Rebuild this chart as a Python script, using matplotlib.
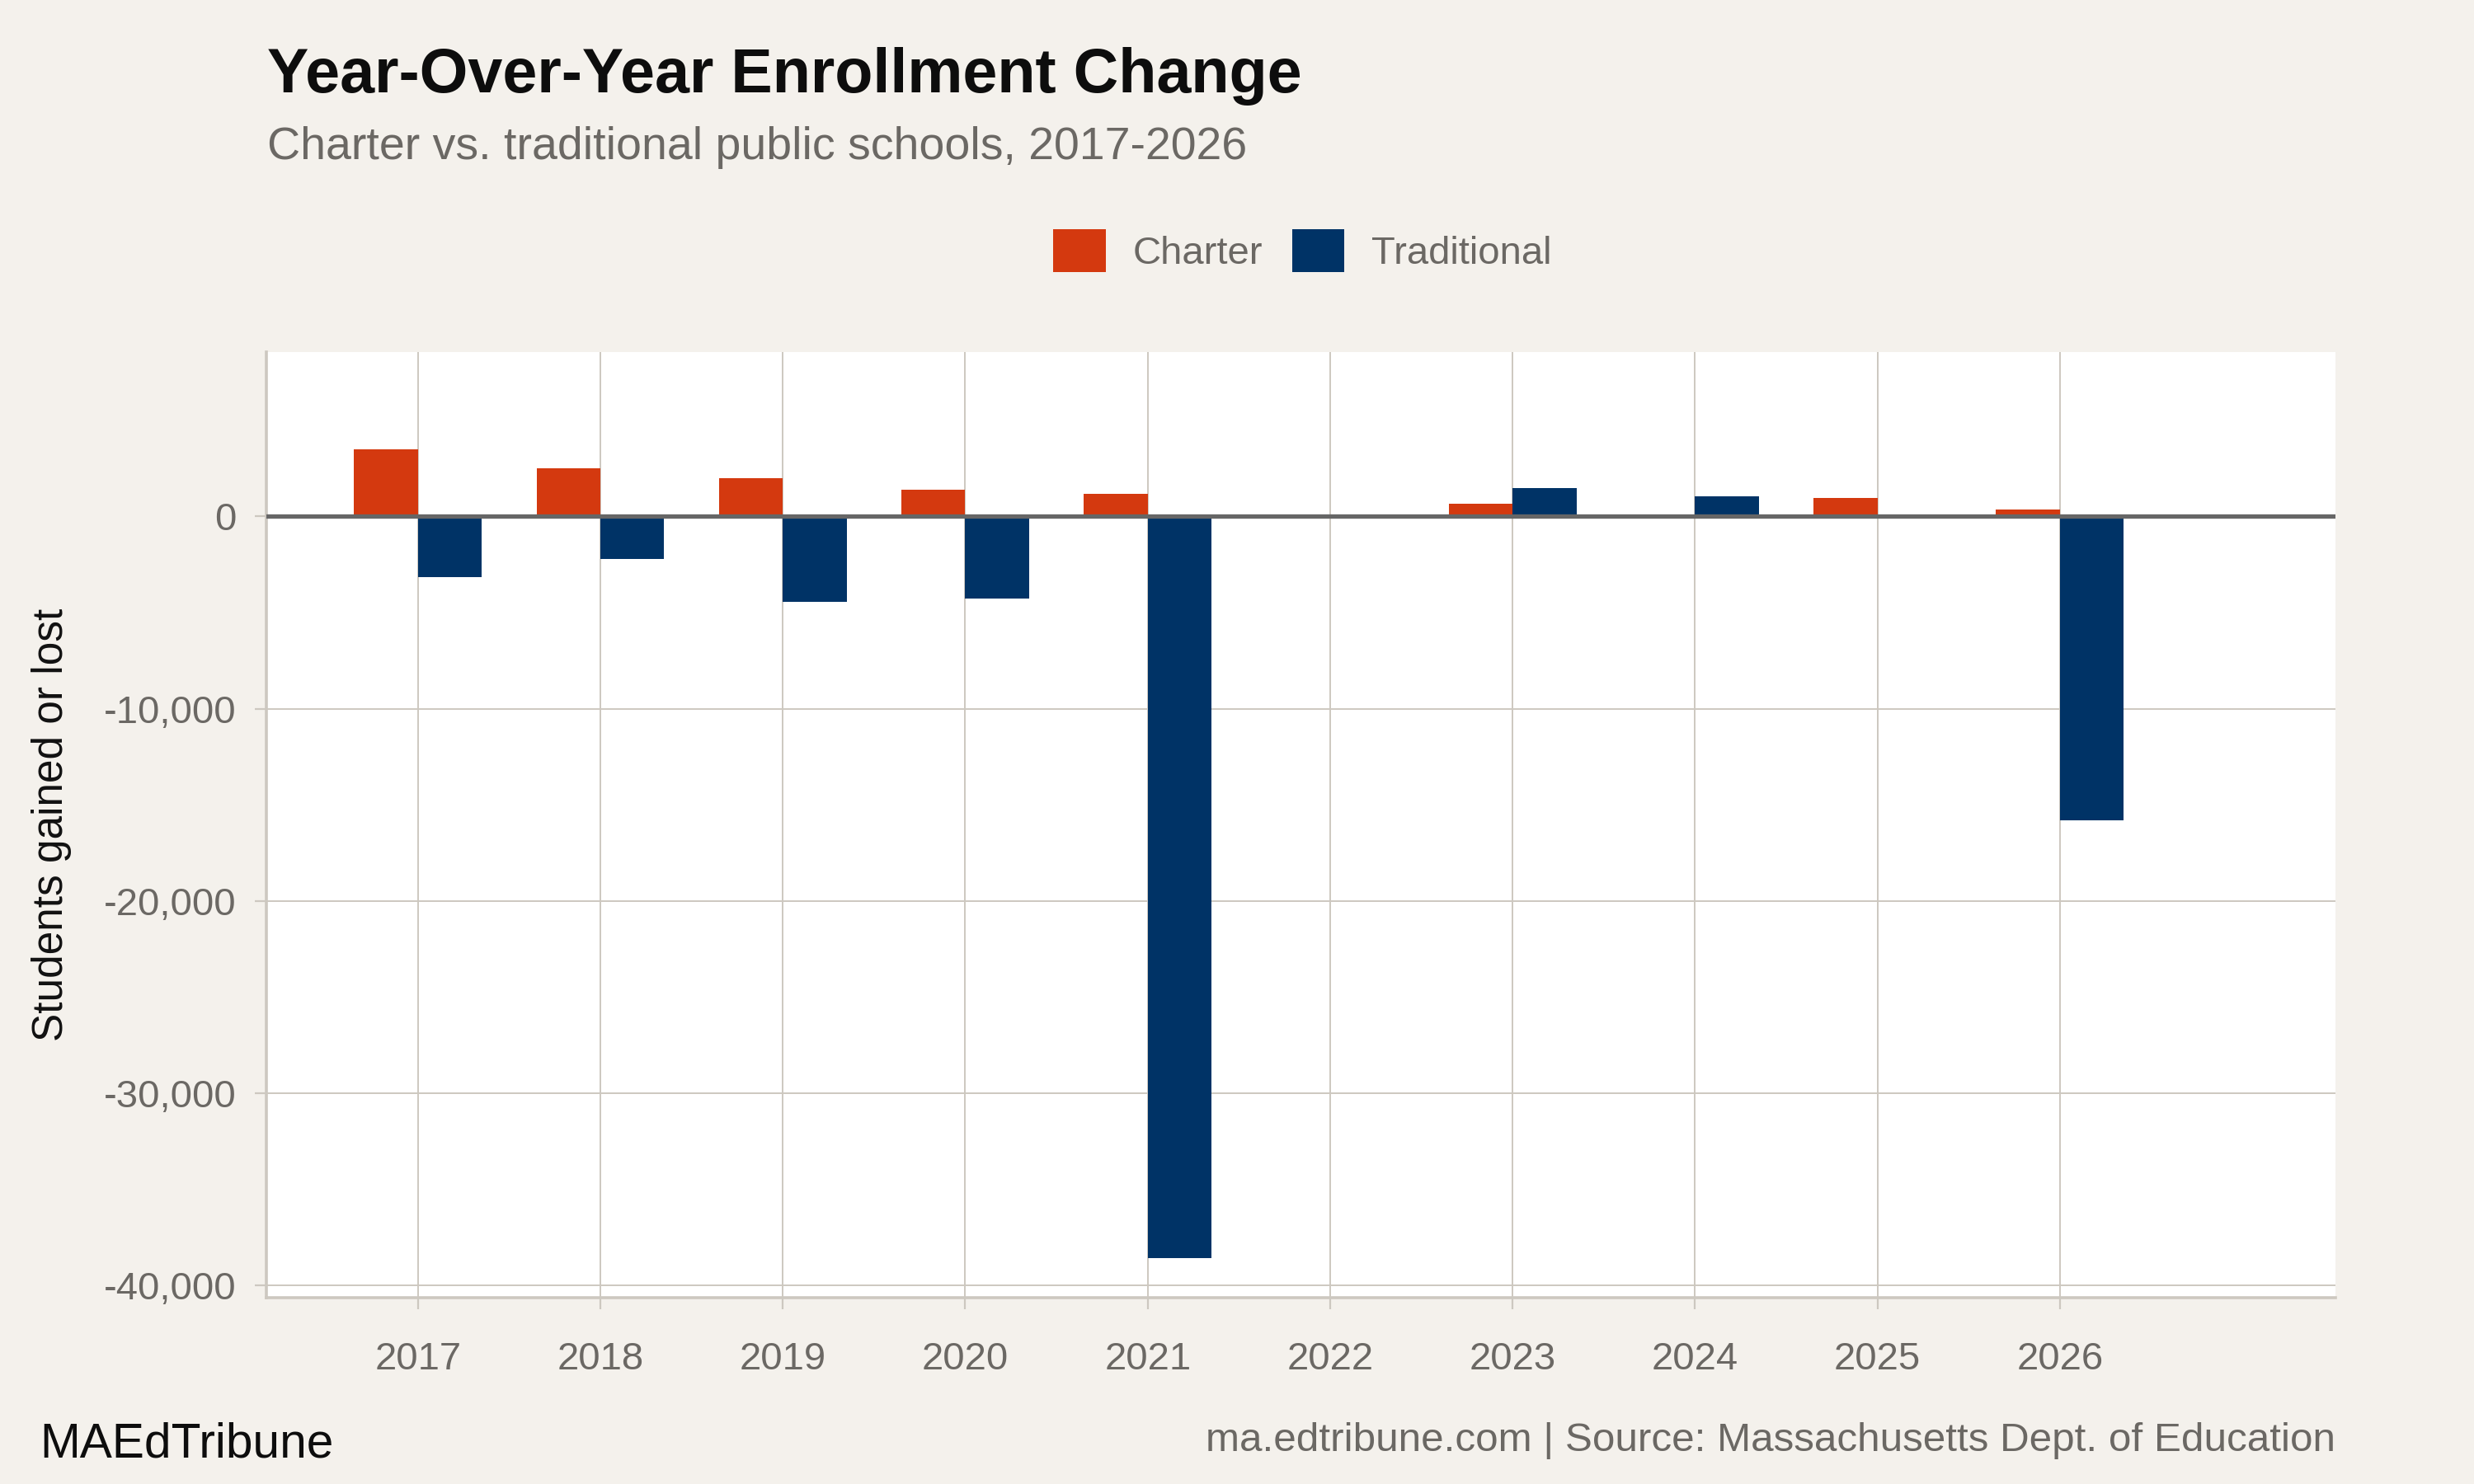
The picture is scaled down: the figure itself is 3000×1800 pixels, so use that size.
import numpy as np
import matplotlib
matplotlib.use("Agg")
import matplotlib.pyplot as plt
from matplotlib.patches import Patch
from matplotlib.ticker import FuncFormatter

years = [2017, 2018, 2019, 2020, 2021, 2022, 2023, 2024, 2025, 2026]
charter = [3500, 2500, 2000, 1400, 1200, np.nan, 650, 120, 950, 350]
traditional = [-3150, -2200, -4450, -4250, -38600, np.nan, 1500, 1050, np.nan, -15800]
yticks = [0, -10000, -20000, -30000, -40000]

title = "Year-Over-Year Enrollment Change"
subtitle = "Charter vs. traditional public schools, 2017-2026"
ylabel = "Students gained or lost"
brand = "MAEdTribune"
source = "ma.edtribune.com | Source: Massachusetts Dept. of Education"

C_CHARTER = "#D4390F"
C_TRAD = "#003366"
BG = "#F4F1EC"
GRID = "#CDC8C0"
GRAYTXT = "#6B6864"

plt.rcParams['font.family'] = ['Liberation Sans', 'DejaVu Sans']

fig = plt.figure(figsize=(15, 9), dpi=200, facecolor=BG)
ax = fig.add_axes([0.1077, 0.1256, 0.944 - 0.1077, 0.7628 - 0.1256])
ax.set_facecolor("white")

w = 0.35
x = np.array(years, dtype=float)
ax.bar(x - w / 2, charter, width=w, color=C_CHARTER, zorder=3, label="Charter")
ax.bar(x + w / 2, traditional, width=w, color=C_TRAD, zorder=3, label="Traditional")

ax.set_xlim(2016.17, 2027.51)
ax.set_ylim(-40650, 8560)
ax.set_xticks(years)
ax.set_xticklabels([str(y) for y in years])
ax.set_yticks(yticks)
ax.yaxis.set_major_formatter(FuncFormatter(lambda v, p: f"{int(v):,}"))

ax.grid(True, color=GRID, linewidth=0.7, zorder=0)
ax.axhline(0, color="#666666", linewidth=1.9, zorder=4)

for s in ["top", "right"]:
    ax.spines[s].set_visible(False)
for s in ["left", "bottom"]:
    ax.spines[s].set_color(GRID)
    ax.spines[s].set_linewidth(1.3)

ax.tick_params(axis="both", colors=GRID, length=5, width=0.8,
               labelcolor=GRAYTXT, labelsize=17, pad=8)
ax.tick_params(axis="x", pad=14)

ax.set_ylabel(ylabel, fontsize=18.5, color="#111111", labelpad=14)

fig.text(0.108, 1 - 112 / 1800, title, fontsize=27.2, fontweight="bold",
         color="#0D0D0D", ha="left", va="baseline")
fig.text(0.108, 1 - 193 / 1800, subtitle, fontsize=20, color=GRAYTXT,
         ha="left", va="baseline")

handles = [Patch(facecolor=C_CHARTER), Patch(facecolor=C_TRAD)]
fig.legend(handles, ["Charter", "Traditional"], loc="center",
           bbox_to_anchor=(0.5265, 1 - 304 / 1800), ncol=2, frameon=False,
           fontsize=17, labelcolor=GRAYTXT, handlelength=1.34, handleheight=1.34,
           handletextpad=0.7, columnspacing=0.75)

fig.text(48 / 3000, 1 - 1767 / 1800, brand, fontsize=21.1, color="#0D0D0D",
         ha="left", va="baseline")
fig.text(0.944, 1 - 1760 / 1800, source, fontsize=17.8, color=GRAYTXT,
         ha="right", va="baseline")

fig.savefig("out.png", dpi=200, facecolor=BG)
